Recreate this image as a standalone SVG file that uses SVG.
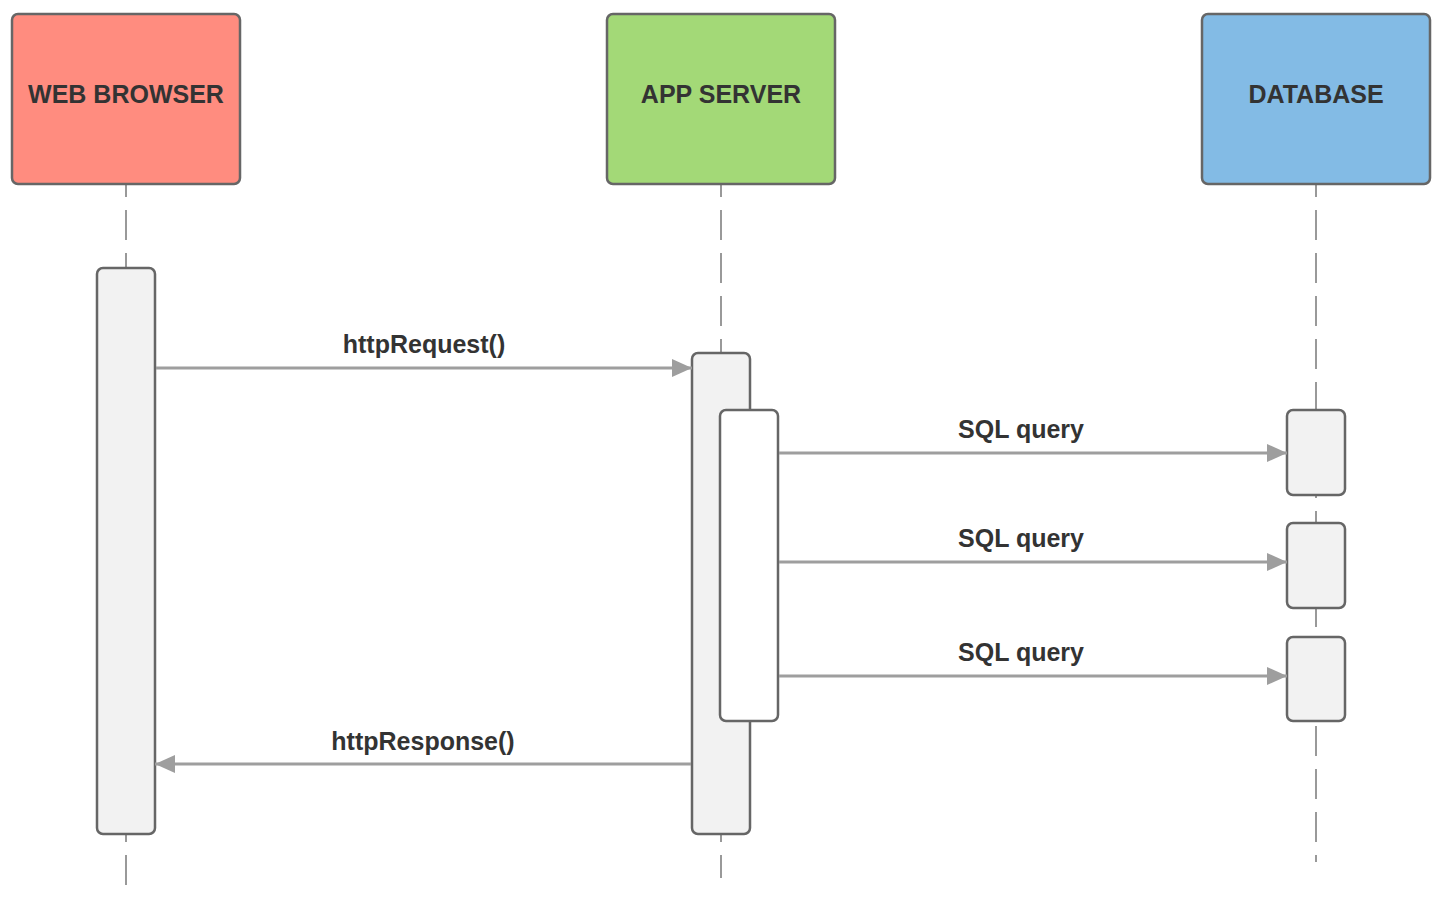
<svg xmlns="http://www.w3.org/2000/svg" width="1448" height="900" viewBox="0 0 1448 900">
  <style>
    .head { stroke: #666666; stroke-width: 2.5; }
    .act { fill: #f2f2f2; stroke: #666666; stroke-width: 2.5; }
    .inner { fill: #ffffff; stroke: #666666; stroke-width: 2.5; }
    .life { stroke: #999999; stroke-width: 2; stroke-dasharray: 30 13; stroke-dashoffset: 17; fill: none; }
    .msg { stroke: #9e9e9e; stroke-width: 3; fill: none; }
    .htxt { font-family: "Liberation Sans", Arial, sans-serif; font-weight: bold; font-size: 25px; fill: #333333; text-anchor: middle; }
    .ltxt { font-family: "Liberation Sans", Arial, sans-serif; font-weight: bold; font-size: 25px; fill: #333333; text-anchor: middle; }
  </style>
  <defs>
    <marker id="arr" viewBox="0 0 20 18" refX="20" refY="9" markerWidth="20" markerHeight="18" markerUnits="userSpaceOnUse" orient="auto">
      <path d="M0,0 L20,9 L0,18 Z" fill="#9e9e9e"/>
    </marker>
  </defs>
  <rect width="1448" height="900" fill="#ffffff"/>

  <g id="lifelines">
    <line class="life" x1="126" y1="184" x2="126" y2="892"/>
    <line class="life" x1="721" y1="184" x2="721" y2="878"/>
    <line class="life" x1="1316" y1="184" x2="1316" y2="862"/>
  </g>

  <g id="web-browser">
    <rect class="head" x="12" y="14" width="228" height="170" rx="6" fill="#ff8c7f"/>
    <text class="htxt" x="126" y="103">WEB BROWSER</text>
  </g>
  <g id="app-server">
    <rect class="head" x="607" y="14" width="228" height="170" rx="6" fill="#a3d977"/>
    <text class="htxt" x="721" y="103">APP SERVER</text>
  </g>
  <g id="database">
    <rect class="head" x="1202" y="14" width="228" height="170" rx="6" fill="#83bbe5"/>
    <text class="htxt" x="1316" y="103">DATABASE</text>
  </g>

  <g id="browser-activation">
    <rect class="act" x="97" y="268" width="58" height="566" rx="6"/>
  </g>
  <g id="server-activation">
    <rect class="act" x="692" y="353" width="58" height="481" rx="6"/>
  </g>
  <g id="server-inner-activation">
    <rect class="inner" x="720" y="410" width="58" height="311" rx="6"/>
  </g>
  <g id="db-activation-1">
    <rect class="act" x="1287" y="410" width="58" height="85" rx="6"/>
  </g>
  <g id="db-activation-2">
    <rect class="act" x="1287" y="523" width="58" height="85" rx="6"/>
  </g>
  <g id="db-activation-3">
    <rect class="act" x="1287" y="637" width="58" height="84" rx="6"/>
  </g>

  <g id="connectors">
    <line class="msg" x1="156" y1="368" x2="692" y2="368" marker-end="url(#arr)"/>
    <line class="msg" x1="779" y1="453" x2="1287" y2="453" marker-end="url(#arr)"/>
    <line class="msg" x1="779" y1="562" x2="1287" y2="562" marker-end="url(#arr)"/>
    <line class="msg" x1="779" y1="676" x2="1287" y2="676" marker-end="url(#arr)"/>
    <line class="msg" x1="691" y1="764" x2="155" y2="764" marker-end="url(#arr)"/>
  </g>

  <g id="labels">
    <text class="ltxt" x="424" y="353">httpRequest()</text>
    <text class="ltxt" x="1021" y="438">SQL query</text>
    <text class="ltxt" x="1021" y="547">SQL query</text>
    <text class="ltxt" x="1021" y="661">SQL query</text>
    <text class="ltxt" x="423" y="750">httpResponse()</text>
  </g>
</svg>
